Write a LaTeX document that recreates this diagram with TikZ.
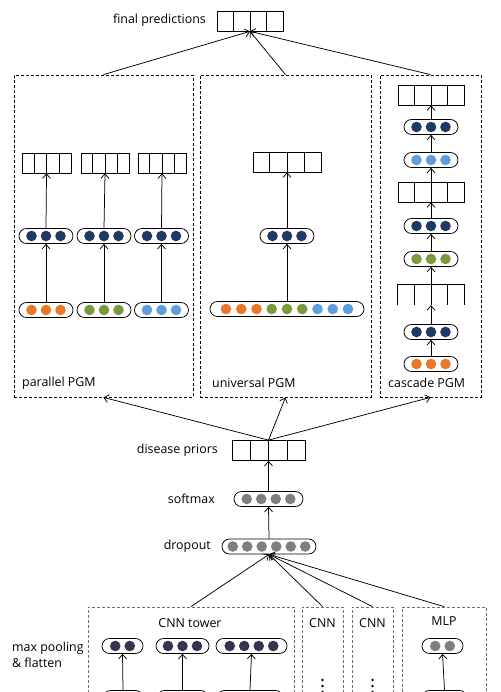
\documentclass[tikz,border=0pt]{standalone}
\usepackage{fontspec}
\setmainfont{Open Sans}
\usepackage{xcolor}
\definecolor{dotOrange}{HTML}{E8782A}
\definecolor{dotGreen}{HTML}{7A9A3E}
\definecolor{dotBlue}{HTML}{5E9EDB}
\definecolor{dotNavy}{HTML}{1F3A62}
\definecolor{dotGray}{HTML}{7F7F7F}
\definecolor{dotPurple}{HTML}{3A3152}
\definecolor{boxGray}{HTML}{707070}
\usetikzlibrary{positioning,calc,arrows.meta,shapes.misc}
\tikzset{%
  pillBox/.style={%
    rounded rectangle,
    draw,
    line width=0.75pt,
    fill=white,
    minimum height=15pt,
    inner sep=0pt
  },
  cellArray/.style={%
    rectangle,
    draw,
    line width=0.75pt,
    minimum height=20pt,
    inner sep=0pt
  },
  panelBox/.style={%
    rectangle,
    draw,
    line width=0.8pt,
    dash pattern=on 3pt off 2pt,
    inner sep=0pt
  },
  towerBox/.style={%
    panelBox,
    draw=boxGray
  },
  arrowLine/.style={%
    -{Straight Barb[length=4.5pt,width=8pt]},
    line width=0.75pt
  },
  labelText/.style={%
    font=\fontsize{12.4}{16}\selectfont,
    inner sep=0pt
  }
}
% pill with a row of dots: [spacing]{name}{x}{y}{width}{colours}
\newcommand{\pillRow}[6][14.5]{%
  \node[pillBox, minimum width=#5pt] (#2) at (#3,#4) {};
  \foreach \c [count=\i] in {#6} {\xdef\dotCount{\i}}
  \foreach \c [count=\i] in {#6}
    \fill[\c] ({#3+(\i-(\dotCount+1)/2)*#1},#4) circle (5.3pt);
}
% four-cell output vector: {name}{x}{y}{width}
\newcommand{\cellRow}[4]{%
  \node[cellArray, minimum width=#4pt] (#1) at (#2,#3) {};
  \foreach \k in {1,2,3}
    \draw[line width=0.75pt] ($(#1.north west)!\k/4!(#1.north east)$) -- ($(#1.south west)!\k/4!(#1.south east)$);
}

\begin{document}
\begin{tikzpicture}[x=1pt,y=-1pt]
  \useasboundingbox (0,0) rectangle (500,692);
  \clip (0,0) rectangle (500,692);

  % top
  \cellRow{finalOut}{250}{21}{66}
  \node[labelText, anchor=east] (finalLbl) at (206,20) {final predictions};

  % PGM panels
  \node[panelBox, minimum width=179pt, minimum height=322pt] (parallel) at (103.5,236) {};
  \node[panelBox, minimum width=171pt, minimum height=322pt] (universal) at (285.5,236) {};
  \node[panelBox, minimum width=101pt, minimum height=322pt] (cascade) at (430.5,236) {};
  \node[labelText, anchor=west] (parallelLbl) at (22,383) {parallel PGM};
  \node[labelText, anchor=west] (universalLbl) at (212,383) {universal PGM};
  \node[labelText, anchor=west] (cascadeLbl) at (388,383) {cascade PGM};

  \draw[arrowLine] (parallel.north) -- (finalOut.south);
  \draw[arrowLine] (universal.north) -- (finalOut.south);
  \draw[arrowLine] (cascade.north) -- (finalOut.south);

  % parallel PGM
  \cellRow{parOutA}{46.5}{163}{49}
  \cellRow{parOutB}{105}{163}{48}
  \cellRow{parOutC}{162}{163}{48}
  \pillRow{parHidA}{46}{236}{54}{dotNavy,dotNavy,dotNavy}
  \pillRow{parHidB}{104}{236}{54}{dotNavy,dotNavy,dotNavy}
  \pillRow{parHidC}{161.5}{236}{54}{dotNavy,dotNavy,dotNavy}
  \pillRow{parInA}{46}{310}{54}{dotOrange,dotOrange,dotOrange}
  \pillRow{parInB}{104}{310}{54}{dotGreen,dotGreen,dotGreen}
  \pillRow{parInC}{161.5}{310}{54}{dotBlue,dotBlue,dotBlue}
  \foreach \s in {A,B,C} {
    \draw[arrowLine] (parIn\s.north) -- (parHid\s.south);
    \draw[arrowLine] (parHid\s.north) -- (parOut\s.south);
  }

  % universal PGM
  \cellRow{uniOut}{287}{162}{68}
  \pillRow{uniHid}{287}{236}{54}{dotNavy,dotNavy,dotNavy}
  \pillRow[15.25]{uniIn}{287}{309}{154}{dotOrange,dotOrange,dotOrange,dotGreen,dotGreen,dotGreen,dotBlue,dotBlue,dotBlue}
  \draw[arrowLine] (uniIn.north) -- (uniHid.south);
  \draw[arrowLine] (uniHid.north) -- (uniOut.south);

  % cascade PGM
  \cellRow{casOutTop}{431}{95}{66}
  \pillRow{casHidA}{431}{127}{54}{dotNavy,dotNavy,dotNavy}
  \pillRow{casInA}{431}{160}{54}{dotBlue,dotBlue,dotBlue}
  \cellRow{casOutMid}{431}{192}{66}
  \pillRow{casHidB}{431}{226}{54}{dotNavy,dotNavy,dotNavy}
  \pillRow{casInB}{431}{259}{54}{dotGreen,dotGreen,dotGreen}
  \node[inner sep=0pt, minimum width=66pt, minimum height=20pt] (casComb) at (431,295) {};
  \draw[line width=0.75pt] (casComb.south west) -- (casComb.north west) -- (casComb.north east) -- (casComb.south east);
  \foreach \k in {1,2,3}
    \draw[line width=0.75pt] ($(casComb.north west)!\k/4!(casComb.north east)$) -- ++(0,20);
  \pillRow{casHidC}{431}{332}{54}{dotNavy,dotNavy,dotNavy}
  \pillRow{casInC}{431}{364}{54}{dotOrange,dotOrange,dotOrange}
  \draw[arrowLine] (casInC.north) -- (casHidC.south);
  \draw[arrowLine] (casHidC.north) -- (casComb.south);
  \draw[arrowLine] (casComb.south) -- (casInB.south);
  \draw[arrowLine] (casInB.north) -- (casHidB.south);
  \draw[arrowLine] (casHidB.north) -- (casOutMid.south);
  \draw[arrowLine] (casOutMid.north) -- (casInA.south);
  \draw[arrowLine] (casInA.north) -- (casHidA.south);
  \draw[arrowLine] (casHidA.north) -- (casOutTop.south);

  % shared trunk
  \cellRow{priors}{268.5}{450.5}{73}
  \node[labelText, anchor=east] (priorsLbl) at (218,450) {disease priors};
  \pillRow{softmax}{268.5}{499}{69}{dotGray,dotGray,dotGray,dotGray}
  \node[labelText, anchor=east] (softmaxLbl) at (215,499) {softmax};
  \pillRow{dropout}{269}{546.5}{94}{dotGray,dotGray,dotGray,dotGray,dotGray,dotGray}
  \node[labelText, anchor=east] (dropoutLbl) at (211,546) {dropout};

  \draw[arrowLine] (dropout.north) -- (softmax.south);
  \draw[arrowLine] (softmax.north) -- (priors.south);
  \draw[arrowLine] (priors.north) -- (parallel.south);
  \draw[arrowLine] (priors.north) -- (universal.south);
  \draw[arrowLine] (priors.north) -- (cascade.south);

  % towers
  \node[towerBox, minimum width=206pt, minimum height=160pt] (cnnTower) at (191,687) {};
  \node[towerBox, minimum width=41pt, minimum height=160pt] (cnnA) at (322.5,687) {};
  \node[towerBox, minimum width=41pt, minimum height=160pt] (cnnB) at (372.5,687) {};
  \node[towerBox, minimum width=84pt, minimum height=160pt] (mlp) at (444,687) {};
  \node[labelText] (cnnTowerLbl) at (190,623) {CNN tower};
  \node[labelText] (cnnALbl) at (322.5,623) {CNN};
  \node[labelText] (cnnBLbl) at (372.5,623) {CNN};
  \node[labelText] (mlpLbl) at (444,621) {MLP};
  \node[labelText, anchor=west, align=left] (poolLbl) at (12,655) {max pooling\\\& flatten};

  \foreach \t in {cnnTower,cnnA,cnnB,mlp}
    \draw[arrowLine] (\t.north) -- (dropout.south);

  \pillRow{poolA}{122.5}{646}{41}{dotPurple,dotPurple}
  \pillRow{poolB}{182.5}{646}{53}{dotPurple,dotPurple,dotPurple}
  \pillRow{poolC}{251.5}{646}{71}{dotPurple,dotPurple,dotPurple,dotPurple}
  \pillRow{mlpHid}{442.5}{646}{41}{dotGray,dotGray}
  \pillRow{convA}{123}{698}{40}{dotPurple,dotPurple}
  \pillRow{convB}{182.5}{698}{51}{dotPurple,dotPurple,dotPurple}
  \pillRow{convC}{250}{698}{66}{dotPurple,dotPurple,dotPurple,dotPurple}
  \pillRow[12]{mlpIn}{444.5}{698}{45}{dotGray,dotGray,dotGray}
  \foreach \s/\d in {convA/poolA,convB/poolB,convC/poolC,mlpIn/mlpHid}
    \draw[arrowLine] (\s.north) -- (\d.south);

  \foreach \yy in {680,686,692} {
    \fill (322.5,\yy) circle (1.3pt);
    \fill (372.5,\yy) circle (1.3pt);
  }
\end{tikzpicture}
\end{document}
